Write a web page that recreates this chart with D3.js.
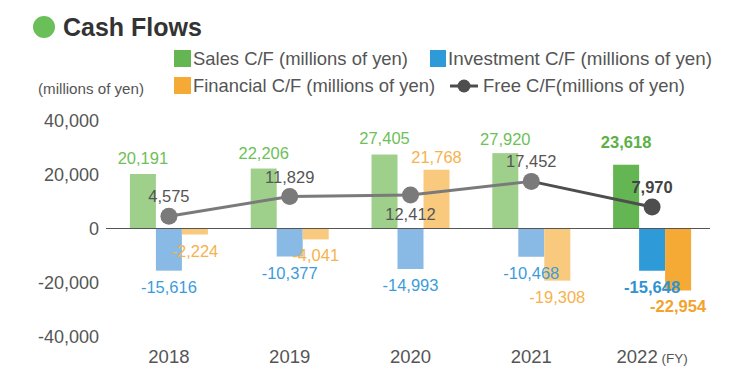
<!DOCTYPE html>
<html><head><meta charset="utf-8">
<script src="https://cdn.jsdelivr.net/npm/d3@7"></script>
<style>
html,body{margin:0;padding:0;background:#fff;}
svg{display:block;font-family:"Liberation Sans",Arial,sans-serif;}
</style></head>
<body>
<svg id="chart" width="741" height="382"></svg>
<script>
// ---- data ----
const years = ["2018", "2019", "2020", "2021", "2022"];
const salesCF = [20191, 22206, 27405, 27920, 23618];
const investmentCF = [-15616, -10377, -14993, -10468, -15648];
const financialCF = [-2224, -4041, 21768, -19308, -22954];
const freeCF = [4575, 11829, 12412, 17452, 7970];
const yTicks = [40000, 20000, 0, -20000, -40000];
const seriesNames = ["Sales C/F (millions of yen)", "Investment C/F (millions of yen)", "Financial C/F (millions of yen)", "Free C/F(millions of yen)"];

// ---- style / layout ----
const colors = {
  sales: ["#9ed08b", "#63b652"], inv: ["#88bae5", "#2f9ad8"], fin: ["#f9c97d", "#f5aa35"],
  salesText: ["#6ebf58", "#5cb046"], invText: ["#3c9cda", "#2f93d3"], finText: ["#f6b24c", "#f3a22c"],
  line: ["#7a7a7a", "#4e4e4e"], text: "#555"
};
const salesNudge = [0, 0, -1, 2, -7];
const freeAbove = [true, true, false, true, true];

const svg = d3.select("#chart");
const x = d3.scaleBand().domain(years).range([108.5, 712.5]).padding(0);
const y = d3.scaleLinear().domain([-40000, 40000]).range([336.5, 120.5]);
const bw = 26;
const cx = d => x(d) + x.bandwidth() / 2;
const hl = i => i === years.length - 1 ? 1 : 0;
const fmt = d3.formatLocale({decimal: ".", thousands: ",", grouping: [3], currency: ["", ""], minus: "-"}).format(",");

// title
svg.append("circle").attr("cx", 44).attr("cy", 27).attr("r", 11).attr("fill", "#6bbf59");
svg.append("text").attr("x", 63).attr("y", 36).attr("font-size", 25).attr("font-weight", "bold")
  .attr("fill", "#333").text("Cash Flows");

// legend
const lg = svg.append("g");
function legText(xp, yp, w, s) {
  lg.append("text").attr("x", xp).attr("y", yp).attr("font-size", 18.5).attr("fill", colors.text)
    .attr("textLength", w).attr("lengthAdjust", "spacingAndGlyphs").text(s);
}
lg.append("rect").attr("x", 174).attr("y", 50).attr("width", 17).attr("height", 17).attr("fill", colors.sales[1]);
legText(193, 65, 215, seriesNames[0]);
lg.append("rect").attr("x", 430).attr("y", 50).attr("width", 16).attr("height", 17).attr("fill", colors.inv[1]);
legText(448, 65, 264, seriesNames[1]);
lg.append("rect").attr("x", 174).attr("y", 77).attr("width", 17).attr("height", 17).attr("fill", colors.fin[1]);
legText(193, 92, 242, seriesNames[2]);
lg.append("line").attr("x1", 450).attr("x2", 478).attr("y1", 86).attr("y2", 86).attr("stroke", colors.line[1]).attr("stroke-width", 3);
lg.append("circle").attr("cx", 464).attr("cy", 86).attr("r", 6.5).attr("fill", colors.line[1]);
legText(483, 92, 202, seriesNames[3]);

svg.append("text").attr("x", 38).attr("y", 94).attr("font-size", 15).attr("fill", colors.text)
  .attr("textLength", 106).attr("lengthAdjust", "spacingAndGlyphs").text("(millions of yen)");

// y axis (labels only)
const yAxis = d3.axisLeft(y).tickValues(yTicks).tickFormat(fmt).tickSize(0).tickPadding(0);
const ya = svg.append("g").attr("transform", "translate(99,0)").call(yAxis);
ya.select(".domain").remove();
ya.selectAll("text").attr("font-size", 18).attr("fill", colors.text).attr("font-family", "Liberation Sans, Arial, sans-serif");

// x axis labels
const xAxis = d3.axisBottom(x).tickSize(0).tickPadding(0).tickFormat(() => "");
const xa = svg.append("g").attr("transform", "translate(0,349)").call(xAxis);
xa.select(".domain").remove();
xa.selectAll(".tick text").each(function(d, i) {
  const t = d3.select(this).attr("font-size", 18.5).attr("fill", colors.text)
    .attr("font-family", "Liberation Sans, Arial, sans-serif").attr("dy", 0).attr("y", 14);
  t.text(null);
  t.append("tspan").text(d);
  if (i === years.length - 1) t.append("tspan").attr("font-size", 13.5).text(" (FY)");
});

// bars
const series = [
  {vals: salesCF, off: -39, c: colors.sales},
  {vals: investmentCF, off: -13, c: colors.inv},
  {vals: financialCF, off: 13, c: colors.fin}
];
series.forEach(s => {
  svg.append("g").selectAll("rect").data(years).join("rect")
    .attr("x", d => cx(d) + s.off).attr("width", bw)
    .attr("y", (d, i) => y(Math.max(0, s.vals[i])))
    .attr("height", (d, i) => Math.abs(y(s.vals[i]) - y(0)))
    .attr("fill", (d, i) => s.c[hl(i)]);
});

// zero line
svg.append("line").attr("x1", 106).attr("x2", 710).attr("y1", y(0)).attr("y2", y(0))
  .attr("stroke", "#555").attr("stroke-width", 1);

// free C/F line
const segs = d3.pairs(years.map((d, i) => [cx(d), y(freeCF[i]), i]));
svg.append("g").selectAll("line").data(segs).join("line")
  .attr("x1", d => d[0][0]).attr("y1", d => d[0][1]).attr("x2", d => d[1][0]).attr("y2", d => d[1][1])
  .attr("stroke", d => colors.line[hl(d[1][2])]).attr("stroke-width", 3);
svg.append("g").selectAll("circle").data(years).join("circle")
  .attr("cx", d => cx(d)).attr("cy", (d, i) => y(freeCF[i])).attr("r", 8.5)
  .attr("fill", (d, i) => colors.line[hl(i)]);

// value labels
const lab = svg.append("g").attr("text-anchor", "middle").attr("font-size", 16.5);
function label(vals, off, textColors, posDy, negDy, nudge) {
  lab.append("g").selectAll("text").data(years).join("text")
    .attr("x", d => cx(d) + off + bw / 2)
    .attr("y", (d, i) => y(vals[i]) + (vals[i] >= 0 ? posDy : negDy) + (nudge ? nudge[i] : 0))
    .attr("fill", (d, i) => textColors[hl(i)])
    .attr("font-weight", (d, i) => hl(i) ? "bold" : null)
    .text((d, i) => fmt(vals[i]));
}
label(salesCF, -39, colors.salesText, -10, 22, salesNudge);
label(investmentCF, -13, colors.invText, -10, 22);
label(financialCF, 13, colors.finText, -7, 22);
lab.append("g").selectAll("text").data(years).join("text")
  .attr("x", d => cx(d))
  .attr("y", (d, i) => y(freeCF[i]) + (freeAbove[i] ? -14 : 25))
  .attr("fill", (d, i) => hl(i) ? "#444" : colors.text)
  .attr("font-weight", (d, i) => hl(i) ? "bold" : null)
  .text((d, i) => fmt(freeCF[i]));
</script>
</body></html>
